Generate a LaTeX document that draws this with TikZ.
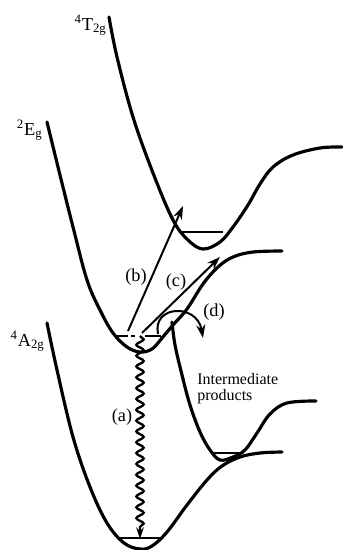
\documentclass[tikz,border=0pt]{standalone}
\usepackage{fontspec}
\setmainfont{Liberation Serif}
\usetikzlibrary{arrows.meta,decorations.pathmorphing}

\begin{document}
\begin{tikzpicture}[x=0.6pt, y=-0.6pt,
  pes/.style={line width=1.9pt, line cap=round},
  lvl/.style={line width=1.4pt},
  trans/.style={line width=1.2pt, -{Stealth[length=8pt, width=5.5pt]}},
  wave/.style={line width=1.4pt, decorate,
    decoration={snake, amplitude=2.2pt, segment length=6.5pt, post length=6pt},
    -{Stealth[length=7pt, width=4.5pt]}},
  lbl/.style={inner sep=0pt, font=\fontsize{11}{13}\selectfont}]
\useasboundingbox (0,0) rectangle (342,550);
\draw[pes] plot[smooth, tension=0.6] coordinates {(109,17) (117,57) (133,117) (153,173) (173,220) (188,240) (203,249) (220,242) (233,227) (248,205) (260,184) (273,167) (293,155) (320,148) (342,147)};
\draw[pes] plot[smooth, tension=0.6] coordinates {(47,122) (58,167) (73,227) (87,280) (100,310) (113,333) (127,347) (140,352) (152,349) (162,338) (173,325) (187,309) (203,284) (218,267) (233,257) (253,252) (282,251)};
\draw[pes] plot[smooth, tension=0.6] coordinates {(47,323) (57,370) (73,437) (90,487) (107,523) (124,543) (140,549) (152,546) (167,532) (187,505) (207,480) (222,466) (240,457) (260,453) (282,452)};
\draw[pes] plot[smooth, tension=0.6] coordinates {(172,322) (175,345) (182,375) (190,405) (200,432) (210,450) (220,460) (233,457) (245,450) (257,433) (270,414) (287,403) (316,401)};
\draw[lvl] (179,232) -- (223,232);
\draw[lvl] (116,336) -- (128,336);
\draw[lvl] (131,336) -- (135,336);
\draw[lvl] (145,336) -- (161,336);
\draw[lvl] (213,453) -- (243,453);
\draw[lvl] (117,538) -- (162,538);
\node[lbl, anchor=base east] (t2g) at (107,30) {\textsuperscript{4}T\textsubscript{2g}};
\node[lbl, anchor=base east] (eg) at (43,135) {\textsuperscript{2}E\textsubscript{g}};
\node[lbl, anchor=base east] (a2g) at (45,346) {\textsuperscript{4}A\textsubscript{2g}};
\node[lbl, font=\fontsize{9.6}{9.6}\selectfont, align=left, anchor=north west] (prod) at (197,373) {Intermediate\\products};
\coordinate (a0) at (140,336);
\coordinate (a1) at (140,539);
\coordinate (b0) at (128,331);
\coordinate (b1) at (183,206);
\coordinate (c0) at (142,333);
\coordinate (c1) at (220,257);
\coordinate (d0) at (158,334);
\coordinate (d1) at (203,338);
\draw[wave] (a0) -- (a1);
\draw[trans] (b0) -- (b1);
\draw[trans] (c0) -- (c1);
\draw[trans] (d0) .. controls (152,305) and (197,303) .. (d1);
\node[lbl] (la) at (122,417) {(a)};
\node[lbl] (lb) at (136,277) {(b)};
\node[lbl] (lc) at (176,282) {(c)};
\node[lbl] (ld) at (214,312) {(d)};
\end{tikzpicture}
\end{document}
